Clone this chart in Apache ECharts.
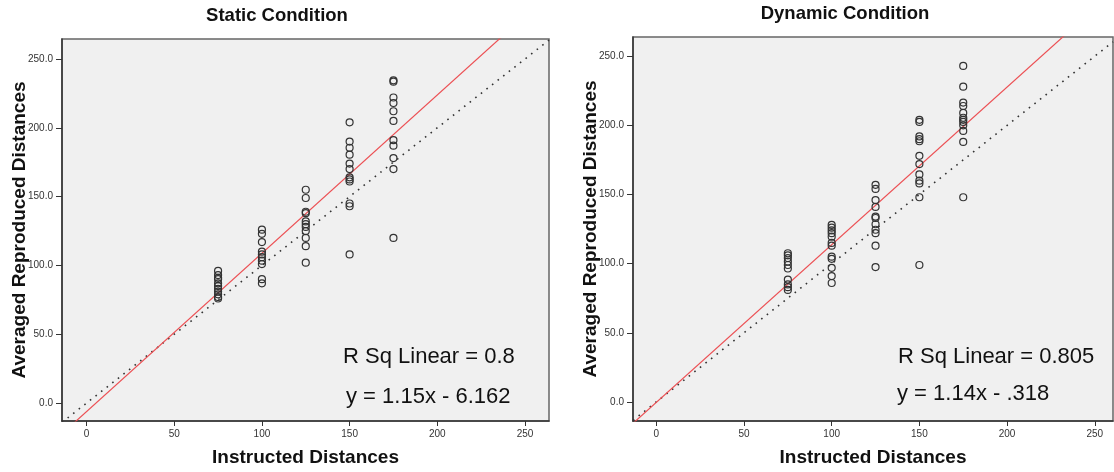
<!DOCTYPE html>
<html>
<head>
<meta charset="utf-8">
<style>
html,body{margin:0;padding:0;background:#fff;}
#chart{width:1114px;height:472px;}
</style>
<script src="https://cdn.jsdelivr.net/npm/echarts@6/dist/echarts.min.js"></script>
</head>
<body>
<div id="chart"></div>
<script>
// ---- data ----
var instructedLevels = [75, 100, 125, 150, 175];
var staticValues = [
  [96, 93, 91, 90, 87, 85, 83, 81, 79, 77, 76],
  [126, 123, 117, 110, 108, 106, 103.5, 101, 90, 87],
  [155, 149, 139, 138, 132, 130, 128, 125, 120, 114, 102],
  [204, 190, 185.5, 180.5, 174, 170, 164, 162.5, 161, 145, 143, 108],
  [234.5, 233.5, 222, 218, 212, 205, 191, 187, 178, 170, 120]
];
var dynamicValues = [
  [107.5, 106, 104, 101.5, 99, 96.5, 88.5, 85, 83, 81],
  [128, 126, 124, 122, 119.5, 115, 113, 105, 103.5, 97, 91, 86],
  [157, 154, 146, 141, 134, 133, 128.5, 124.5, 122, 113, 97.5],
  [204, 202.5, 192, 190, 188.5, 178, 172, 164.5, 160, 158, 148, 99],
  [243, 228, 216.5, 214, 209, 205.5, 204, 202.5, 200, 196, 188, 148]
];
var staticFit = [1.15, -6.162];
var dynamicFit = [1.14, -0.318];
var tickValues = [0, 50, 100, 150, 200, 250];
var titles = ['Static Condition', 'Dynamic Condition'];
var rSqTexts = ['R Sq Linear = 0.8', 'R Sq Linear = 0.805'];
var eqTexts = ['y = 1.15x - 6.162', 'y = 1.14x - .318'];
var xName = 'Instructed Distances';
var yName = 'Averaged Reproduced Distances';

// ---- build ----
var ranges = [
  {xmin: -14, xmax: 263.7, ymin: -13, ymax: 264.5},
  {xmin: -13.3, xmax: 260.4, ymin: -13.8, ymax: 263.9}
];
function toPoints(vals) {
  var pts = [];
  for (var i = 0; i < instructedLevels.length; i++) {
    for (var j = 0; j < vals[i].length; j++) pts.push([instructedLevels[i], vals[i][j]]);
  }
  return pts;
}
function fitLine(fit, r) {
  return [[r.xmin, fit[0] * r.xmin + fit[1]], [r.xmax, fit[0] * r.xmax + fit[1]]];
}
function idLine(r) {
  return [[r.xmin, r.xmin], [r.xmax, r.xmax]];
}
var font = '"Liberation Sans", Arial, sans-serif';
var grids = [
  {left: 62, top: 39, width: 487, height: 384},
  {left: 633, top: 37, width: 480, height: 387}
];
grids.forEach(function (g) {
  g.show = true; g.backgroundColor = '#f0f0f0'; g.borderColor = '#666'; g.borderWidth = 1.5; g.containLabel = false;
});
function xAxis(i) {
  var r = ranges[i];
  return {
    type: 'value', gridIndex: i, min: r.xmin, max: r.xmax,
    name: xName, nameLocation: 'middle', nameGap: 27,
    nameTextStyle: {fontFamily: font, fontWeight: 'bold', fontSize: 19, color: '#111'},
    axisLine: {show: true, onZero: false, lineStyle: {color: '#333', width: 1.5}},
    axisTick: {show: true, length: 5, customValues: tickValues, lineStyle: {color: '#333'}},
    axisLabel: {customValues: tickValues, fontFamily: font, fontSize: 10, color: '#333', margin: 8},
    splitLine: {show: false}
  };
}
function yAxis(i) {
  var r = ranges[i];
  return {
    type: 'value', gridIndex: i, min: r.ymin, max: r.ymax,
    name: yName, nameLocation: 'middle', nameGap: 33, nameRotate: 90, nameMoveOverlap: false,
    nameTextStyle: {fontFamily: font, fontWeight: 'bold', fontSize: 19, color: '#111'},
    axisLine: {show: true, onZero: false, lineStyle: {color: '#333', width: 1.5}},
    axisTick: {show: true, length: 6, customValues: tickValues, lineStyle: {color: '#333'}},
    axisLabel: {customValues: tickValues, fontFamily: font, fontSize: 10, color: '#333', margin: 9,
      formatter: function (v) { return v.toFixed(1); }},
    splitLine: {show: false}
  };
}
function scatter(i, vals) {
  return {
    type: 'scatter', xAxisIndex: i, yAxisIndex: i, data: toPoints(vals),
    symbol: 'circle', symbolSize: 7, silent: true, z: 3,
    itemStyle: {color: 'rgba(0,0,0,0)', borderColor: '#333', borderWidth: 1.2, opacity: 1}
  };
}
function line(i, data, style) {
  return {
    type: 'line', xAxisIndex: i, yAxisIndex: i, data: data, symbol: 'none', silent: true, clip: true,
    lineStyle: style, z: 2, animation: false
  };
}
var chart = echarts.init(document.getElementById('chart'));
chart.setOption({
  animation: false,
  backgroundColor: '#fff',
  grid: grids,
  xAxis: [xAxis(0), xAxis(1)],
  yAxis: [yAxis(0), yAxis(1)],
  series: [
    line(0, idLine(ranges[0]), {color: '#333', width: 1.6, type: [1.6, 5.5]}),
    line(0, fitLine(staticFit, ranges[0]), {color: '#ec5054', width: 1.2}),
    scatter(0, staticValues),
    line(1, idLine(ranges[1]), {color: '#333', width: 1.6, type: [1.6, 5.5]}),
    line(1, fitLine(dynamicFit, ranges[1]), {color: '#ec5054', width: 1.2}),
    scatter(1, dynamicValues)
  ],
  graphic: [
    {type: 'text', x: 277, y: 16, style: {text: titles[0], font: 'bold 18.5px ' + font, fill: '#111', textAlign: 'center', textVerticalAlign: 'middle'}},
    {type: 'text', x: 845, y: 14, style: {text: titles[1], font: 'bold 18.5px ' + font, fill: '#111', textAlign: 'center', textVerticalAlign: 'middle'}},
    {type: 'text', x: 343, y: 357, z: 10, style: {text: rSqTexts[0], font: '22px ' + font, fill: '#111', textVerticalAlign: 'middle'}},
    {type: 'text', x: 346, y: 397, z: 10, style: {text: eqTexts[0], font: '22px ' + font, fill: '#111', textVerticalAlign: 'middle'}},
    {type: 'text', x: 898, y: 357, z: 10, style: {text: rSqTexts[1], font: '22px ' + font, fill: '#111', textVerticalAlign: 'middle'}},
    {type: 'text', x: 897, y: 394, z: 10, style: {text: eqTexts[1], font: '22px ' + font, fill: '#111', textVerticalAlign: 'middle'}}
  ]
});
</script>
</body>
</html>
